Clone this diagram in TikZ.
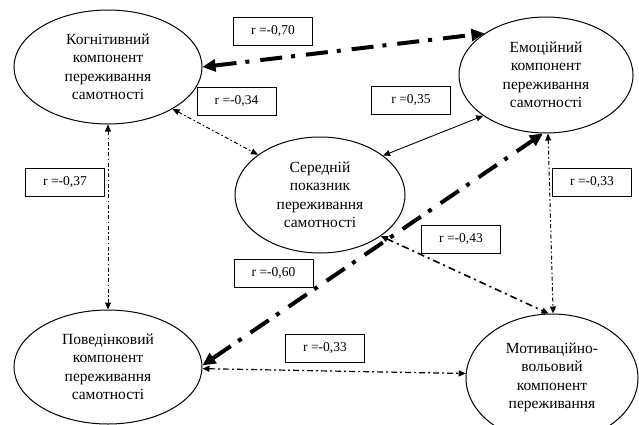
\documentclass[tikz,border=0pt]{standalone}
\usepackage{fontspec}
\setmainfont{Liberation Serif}
\usetikzlibrary{shapes.geometric,arrows.meta}
\tikzset{
  comp/.style={ellipse, draw, line width=1pt, inner sep=0pt, align=center,
    font=\fontsize{15.5}{18.5}\selectfont},
  rbox/.style={draw, line width=0.9pt, minimum width=79pt, minimum height=28pt,
    inner sep=0pt, font=\fontsize{13.5}{15}\selectfont},
  thin tip/.style={{Triangle[length=7pt,width=6pt]}-{Triangle[length=7pt,width=6pt]}},
  thick tip/.style={{Triangle[length=13pt,width=12pt]}-{Triangle[length=13pt,width=12pt]}},
  thicklink/.style={line width=4pt, thick tip, dash pattern=on 22pt off 9pt on 4pt off 11pt},
  dotlink/.style={line width=1pt, thin tip, dash pattern=on 4pt off 2.5pt on 1.5pt off 2.5pt},
  medlink/.style={line width=1.6pt, thin tip, dash pattern=on 7pt off 4pt on 2pt off 4pt},
  hlink/.style={line width=1.2pt, thin tip, dash pattern=on 6pt off 3pt on 2pt off 3pt},
  solidlink/.style={line width=0.9pt, thin tip}
}
\begin{document}
\begin{tikzpicture}[x=1pt,y=-1pt]
\useasboundingbox (0,0) rectangle (639,424);
\fill[white] (0,0) rectangle (639,424);
\clip (0,0) rectangle (639,424);

\node[comp, minimum width=188pt, minimum height=114pt] (cog) at (108,67)
  {Когнітивний\\компонент\\переживання\\самотності};
\node[comp, minimum width=174pt, minimum height=116pt] (emo) at (546,75)
  {Емоційний\\компонент\\переживання\\самотності};
\node[comp, minimum width=170pt, minimum height=116pt] (mid) at (320,195)
  {Середній\\показник\\переживання\\самотності};
\node[comp, minimum width=188pt, minimum height=114pt] (beh) at (108,367)
  {Поведінковий\\компонент\\переживання\\самотності};
\node[comp, minimum width=172pt, minimum height=128pt] (mot) at (552,378) {};
\node[align=center, font=\fontsize{15.5}{18.5}\selectfont, anchor=north] (mottext) at (552,339)
  {Мотиваційно-\\вольовий\\компонент\\переживання};

\node[rbox] (b70) at (273,31) {r =-0,70};
\node[rbox] (b34) at (236.5,101) {r =-0,34};
\node[rbox] (b35) at (411,100.5) {r =0,35};
\node[rbox] (b37) at (65,182.5) {r =-0,37};
\node[rbox] (b33r) at (592,182.5) {r =-0,33};
\node[rbox] (b60) at (273.5,273.5) {r =-0,60};
\node[rbox] (b43) at (461,239) {r =-0,43};
\node[rbox] (b33b) at (325,348) {r =-0,33};

\draw[thicklink] (cog.0) -- (emo.146.5);
\draw[dotlink] (cog.-33) -- (mid.147);
\draw[solidlink] (emo.213) -- (mid.32);
\draw[medlink] (mid.-34) -- (mot.93);
\draw[dotlink] (emo.-88) -- (mot.89);
\draw[dotlink] (cog.-90) -- (beh.90);
\draw[hlink] (beh.-1) -- (mot.177);
\draw[thicklink] (beh.1.5) -- (emo.-93);
\end{tikzpicture}
\end{document}
